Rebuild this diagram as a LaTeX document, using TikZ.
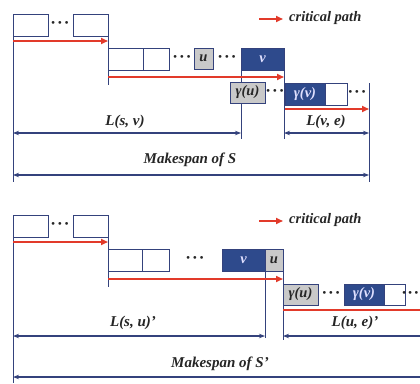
\documentclass[tikz,border=0pt]{standalone}
\usepackage{fontspec}
\setmainfont{Liberation Serif}
\usetikzlibrary{arrows.meta,fit}
\definecolor{navy}{HTML}{34427C}
\definecolor{dblue}{HTML}{2E4A8C}
\definecolor{gbox}{HTML}{C9C9C9}
\definecolor{cred}{HTML}{E23A2A}
\tikzset{
  box/.style={draw=navy, line width=1pt, inner sep=0pt, font=\bfseries\itshape\fontsize{14}{14}\selectfont},
  wbox/.style={box, fill=white},
  graybox/.style={box, fill=gbox, text=black},
  darkbox/.style={box, fill=dblue, text=white!88!blue},
  boxtext/.style={inner sep=0pt, font=\bfseries\itshape\fontsize{14.5}{14.5}\selectfont},
  dotsn/.style={inner sep=0pt, font=\bfseries\fontsize{17}{17}\selectfont, text=black!85},
  vline/.style={draw=navy, line width=0.9pt},
  crit/.style={draw=cred, line width=1.6pt, -{Triangle[length=7pt,width=6pt]}},
  critline/.style={draw=cred, line width=1.6pt},
  dim/.style={draw=navy, line width=1.1pt, {Stealth[length=6pt,width=4.5pt]}-{Stealth[length=6pt,width=4.5pt]}},
  diml/.style={draw=navy, line width=1.1pt, {Stealth[length=6pt,width=4.5pt]}-},
  lab/.style={inner sep=0pt, font=\bfseries\itshape\fontsize{15}{15}\selectfont, text=black!85},
  leg/.style={inner sep=0pt, anchor=west, font=\bfseries\itshape\fontsize{14.5}{14.5}\selectfont, text=black!85}
}
\newcommand{\mydots}{·\kern1pt·\kern1pt·}
\begin{document}
\begin{tikzpicture}[x=1pt,y=-1pt]
\clip (0,0) rectangle (420,383);
\fill[white] (0,0) rectangle (420,383);

% ================= TOP =================
% legend
\coordinate (lgA1) at (259,19);
\coordinate (lgA2) at (283,19);
\node[leg] (lgA) at (289,18) {critical path};
\draw[crit] (lgA1) -- (lgA2);

% free ends
\coordinate (tL) at (13,182);
\coordinate (t1) at (108,85);
\coordinate (t2) at (241,139);
\coordinate (t3) at (284,139);
\coordinate (tR) at (369,182);
\coordinate (tRtop) at (369,83);

% vertical lines (behind boxes)
\coordinate (tLtop) at (13,14);
\draw[vline] (tLtop) -- (tL);
\coordinate (t1top) at (108,36);
\draw[vline] (t1top) -- (t1);
\coordinate (t2top) at (241,70);
\draw[vline] (t2top) -- (t2);
\coordinate (t3top) at (284,70);
\draw[vline] (t3top) -- (t3);
\draw[vline] (tRtop) -- (tR);

% row 1
\node[wbox, fit={(13,14)(48,36)}] (ta1) {};
\node[dotsn] (tda) at (60,25) {\mydots};
\node[wbox, fit={(73,14)(108,36)}] (ta2) {};
\coordinate (tr1s) at (13,41);
\coordinate (tr1e) at (108,41);
\draw[crit] (tr1s) -- (tr1e);

% row 2
\node[wbox, fit={(108,48)(143,70)}] (tb1) {};
\node[wbox, fit={(143,48)(169,70)}] (tb2) {};
\node[dotsn] (tdb) at (182,59) {\mydots};
\node[graybox, fit={(194,48)(213,69)}] (tu) {};
\node[boxtext, text=black!85] at (tu.center) {u};
\node[dotsn] (tdc) at (227,59) {\mydots};
\node[darkbox, fit={(241,48)(284,70)}] (tv) {};
\node[boxtext, text=white!88!blue] at (tv.center) {v};
\coordinate (tr2s) at (108,77);
\coordinate (tr2e) at (284,77);
\draw[crit] (tr2s) -- (tr2e);

% row 3
\node[graybox, fit={(230,82)(265,103)}] (tgu) {};
\node[boxtext, text=black!85] at (tgu.center) {γ(u)};
\node[dotsn] (tdd) at (275,93) {\mydots};
\node[darkbox, fit={(285,83)(325,105)}] (tgv) {};
\node[boxtext, text=white!88!blue] at (tgv.center) {γ(v)};
\node[wbox, fit={(325,83)(347,105)}] (tw) {};
\node[dotsn] (tde) at (357,94) {\mydots};
\coordinate (tr3s) at (285,109);
\coordinate (tr3e) at (369,109);
\draw[crit] (tr3s) -- (tr3e);

% dimensions
\coordinate (dA1) at (13,133);
\coordinate (dA2) at (241,133);
\draw[dim] (dA1) -- (dA2);
\node[lab] (lA) at (125,122) {L(s, v)};
\coordinate (dB1) at (284,133);
\coordinate (dB2) at (369,133);
\draw[dim] (dB1) -- (dB2);
\node[lab] (lB) at (326,122) {L(v, e)};
\coordinate (dC1) at (13,175);
\coordinate (dC2) at (369,175);
\draw[dim] (dC1) -- (dC2);
\node[lab] (lC) at (190,160) {Makespan of S};

% ================= BOTTOM =================
\coordinate (lgB1) at (259,221);
\coordinate (lgB2) at (283,221);
\node[leg] (lgB) at (289,220) {critical path};
\draw[crit] (lgB1) -- (lgB2);

\coordinate (bL) at (13,383);
\coordinate (bLtop) at (13,215);
\draw[vline] (bLtop) -- (bL);
\coordinate (b1top) at (108,237);
\coordinate (b1) at (108,287);
\draw[vline] (b1top) -- (b1);
\coordinate (b2top) at (265,271);
\coordinate (b2) at (265,338);
\draw[vline] (b2top) -- (b2);
\coordinate (b3top) at (283,271);
\coordinate (b3) at (283,340);
\draw[vline] (b3top) -- (b3);

% row 1
\node[wbox, fit={(13,215)(48,237)}] (ba1) {};
\node[dotsn] (bda) at (60,226) {\mydots};
\node[wbox, fit={(73,215)(108,237)}] (ba2) {};
\coordinate (br1s) at (13,242);
\coordinate (br1e) at (108,242);
\draw[crit] (br1s) -- (br1e);

% row 2
\node[wbox, fit={(108,249)(142,271)}] (bb1) {};
\node[wbox, fit={(142,249)(169,271)}] (bb2) {};
\node[dotsn] (bdb) at (195,260) {\mydots};
\node[darkbox, fit={(222,249)(265,271)}] (bv) {};
\node[boxtext, text=white!88!blue] at (bv.center) {v};
\node[graybox, fit={(265,249)(283,271)}] (bu) {};
\node[boxtext, text=black!85] at (bu.center) {u};
\coordinate (br2s) at (108,279);
\coordinate (br2e) at (283,279);
\draw[crit] (br2s) -- (br2e);

% row 3
\node[graybox, fit={(283,284)(318,305)}] (bgu) {};
\node[boxtext, text=black!85] at (bgu.center) {γ(u)};
\node[dotsn] (bdc) at (331,295) {\mydots};
\node[darkbox, fit={(344,284)(384,305)}] (bgv) {};
\node[boxtext, text=white!88!blue] at (bgv.center) {γ(v)};
\node[wbox, fit={(384,284)(405,305)}] (bw) {};
\node[dotsn, anchor=east] (bdd) at (419.5,295) {·\kern0.5pt·\kern0.5pt·};
\coordinate (br3s) at (283,310);
\coordinate (br3e) at (421,310);
\draw[critline] (br3s) -- (br3e);

% dimensions
\coordinate (dD1) at (13,336);
\coordinate (dD2) at (265,336);
\draw[dim] (dD1) -- (dD2);
\node[lab] (lD) at (133,323) {L(s, u)’};
\coordinate (dE1) at (283,336);
\coordinate (dE2) at (421,336);
\draw[diml] (dE1) -- (dE2);
\node[lab] (lE) at (355,323) {L(u, e)’};
\coordinate (dF1) at (13,377);
\coordinate (dF2) at (421,377);
\draw[diml] (dF1) -- (dF2);
\node[lab] (lF) at (220,364) {Makespan of S’};
\end{tikzpicture}
\end{document}
